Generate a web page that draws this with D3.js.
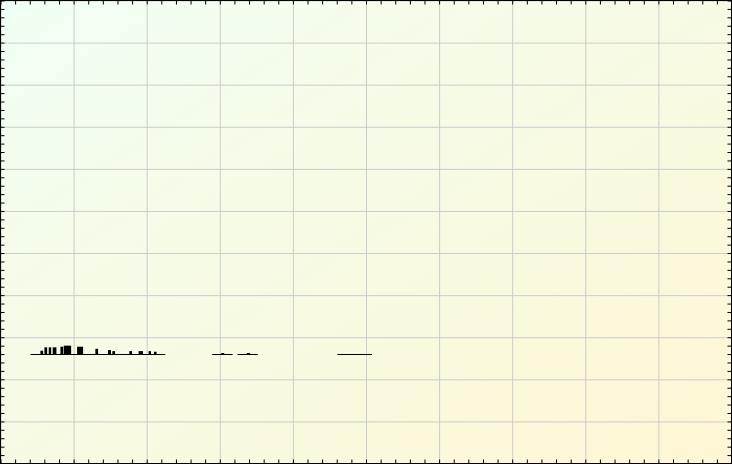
<!DOCTYPE html>
<html><head><meta charset="utf-8">
<script src="https://cdn.jsdelivr.net/npm/d3@7"></script>
<style>body{margin:0;background:#fff}svg{display:block}</style></head>
<body><svg id="c" width="732" height="464"></svg>
<script>
// ---- data ----
const xDomain = [0, 100];
const yDomain = [-26, 84];
const xMajorTicks = d3.range(0, 100.01, 10);
const yMajorTicks = d3.range(-26, 84.01, 10);
const xMinorTicks = d3.range(0, 100.01, 2);
const yMinorTicks = d3.range(-26, 84.01, 2);
const groupStart = [4.10, 28.96, 32.42, 46.08];
const groupEnd   = [22.54, 31.76, 35.20, 50.82];
const barStart = [5.46, 6.01, 6.60, 7.14, 8.20, 8.65, 10.48, 12.98, 14.71, 15.30, 17.62, 18.89, 20.26, 21.00, 30.19, 33.70];
const barEnd   = [5.83, 6.38, 6.93, 7.65, 8.57, 9.66, 11.30, 13.35, 15.12, 15.67, 17.99, 19.49, 20.59, 21.35, 30.60, 34.15];
const barValue = [0.8, 1.6, 1.6, 1.6, 1.75, 2.0, 1.75, 1.25, 0.95, 0.7, 0.7, 0.7, 0.7, 0.55, 0.25, 0.25];

// ---- chart ----
const W = 732, H = 464;
const svg = d3.select("#c");
const x = d3.scaleLinear().domain(xDomain).range([0.5, W - 0.5]);
const y = d3.scaleLinear().domain(yDomain).range([H - 0.5, 0.5]);

const defs = svg.append("defs");
const grad = defs.append("linearGradient").attr("id", "bg")
  .attr("x1", 0).attr("y1", 0).attr("x2", 1).attr("y2", 1);
grad.append("stop").attr("offset", "0%").attr("stop-color", "#f0fff4");
grad.append("stop").attr("offset", "100%").attr("stop-color", "#fff6d3");
svg.append("rect").attr("x", 0).attr("y", 0).attr("width", W).attr("height", H).attr("fill", "url(#bg)");

// grid
const gx = svg.append("g").attr("transform", `translate(0,${H - 0.5})`)
  .call(d3.axisBottom(x).tickValues(xMajorTicks).tickSize(-(H - 1)).tickFormat(""));
const gy = svg.append("g").attr("transform", `translate(0.5,0)`)
  .call(d3.axisLeft(y).tickValues(yMajorTicks).tickSize(-(W - 1)).tickFormat(""));
[gx, gy].forEach(g => {
  g.select(".domain").remove();
  g.selectAll(".tick line").attr("stroke", "#cccccc").attr("stroke-width", 1);
});

// minor ticks on all four sides (inward)
const tl = 4;
const axes = [
  svg.append("g").attr("transform", `translate(0,${H - 0.5})`).call(d3.axisBottom(x).tickValues(xMinorTicks).tickSize(-tl).tickFormat("")),
  svg.append("g").attr("transform", `translate(0,0.5)`).call(d3.axisTop(x).tickValues(xMinorTicks).tickSize(-tl).tickFormat("")),
  svg.append("g").attr("transform", `translate(0.5,0)`).call(d3.axisLeft(y).tickValues(yMinorTicks).tickSize(-tl).tickFormat("")),
  svg.append("g").attr("transform", `translate(${W - 0.5},0)`).call(d3.axisRight(y).tickValues(yMinorTicks).tickSize(-tl).tickFormat(""))
];
axes.forEach(g => {
  g.select(".domain").remove();
  g.selectAll(".tick line").attr("stroke", "#000").attr("stroke-width", 1);
});

// baselines (zero-height bins)
const y0 = Math.round(y(0)) + 0.5;
svg.append("g").selectAll("line").data(groupStart).join("line")
  .attr("x1", (d) => x(d)).attr("x2", (d, i) => x(groupEnd[i]))
  .attr("y1", y0).attr("y2", y0)
  .attr("stroke", "#000").attr("stroke-width", 1);

// bars
svg.append("g").selectAll("rect").data(barValue).join("rect")
  .attr("x", (d, i) => x(barStart[i]))
  .attr("width", (d, i) => x(barEnd[i]) - x(barStart[i]))
  .attr("y", d => y(d))
  .attr("height", d => y0 - y(d))
  .attr("fill", "#000");

// frame
svg.append("rect").attr("x", 0.5).attr("y", 0.5).attr("width", W - 1).attr("height", H - 1)
  .attr("fill", "none").attr("stroke", "#000").attr("stroke-width", 1);
</script></body></html>
